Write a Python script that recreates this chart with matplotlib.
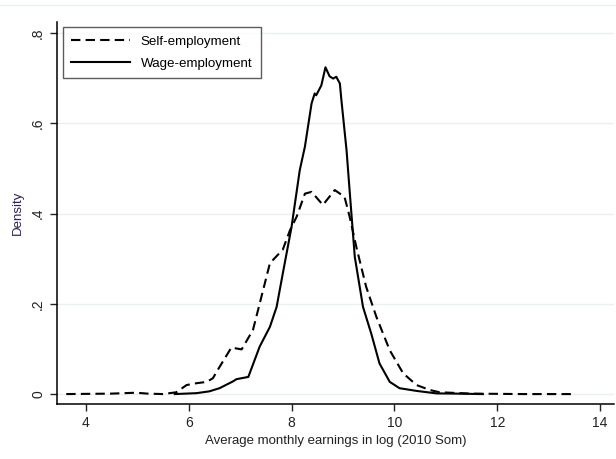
import numpy as np
import matplotlib
matplotlib.use("Agg")
import matplotlib.pyplot as plt

plt.rcParams['font.family'] = ['Liberation Sans', 'DejaVu Sans']

# self-employment density (dashed)
self_x = [3.62, 4.5, 4.98, 5.2, 5.5, 5.76, 5.96, 6.15, 6.35, 6.47, 6.6, 6.83, 7.03,
          7.25, 7.38, 7.58, 7.83, 7.97, 8.10, 8.26, 8.39, 8.61, 8.84, 9.03, 9.13,
          9.26, 9.45, 9.65, 9.91, 10.17, 10.43, 10.69, 10.88, 11.5, 12.5, 13.45]
self_y = [0.0, 0.001, 0.003, 0.001, 0.0, 0.004, 0.02, 0.024, 0.027, 0.035, 0.06, 0.103, 0.099,
          0.142, 0.2, 0.29, 0.32, 0.363, 0.393, 0.444, 0.448, 0.419, 0.452, 0.437, 0.393,
          0.326, 0.238, 0.171, 0.097, 0.046, 0.02, 0.009, 0.004, 0.001, 0.0, 0.0]

# wage-employment density (solid)
wage_x = [5.73, 6.15, 6.4, 6.6, 6.86, 6.93, 7.16, 7.38, 7.58, 7.71, 7.83, 8.0, 8.16,
          8.26, 8.39, 8.45, 8.48, 8.58, 8.66, 8.74, 8.81, 8.87, 8.94, 8.97, 9.07,
          9.13, 9.23, 9.39, 9.55, 9.71, 9.91, 10.1, 10.43, 10.82, 11.2, 11.72]
wage_y = [0.0, 0.002, 0.006, 0.013, 0.028, 0.033, 0.038, 0.105, 0.149, 0.193, 0.267, 0.37, 0.496,
          0.548, 0.644, 0.666, 0.662, 0.684, 0.724, 0.704, 0.699, 0.703, 0.688, 0.651, 0.54,
          0.45, 0.304, 0.193, 0.134, 0.068, 0.027, 0.013, 0.007, 0.0015, 0.001, 0.0]

xticks = [4, 6, 8, 10, 12, 14]
yticks = [0, 0.2, 0.4, 0.6, 0.8]
ytick_labels = ["0", ".2", ".4", ".6", ".8"]

fig = plt.figure(figsize=(6.16, 4.59), dpi=100)
ax = fig.add_axes([57/616, 1 - 404/459, (614 - 57)/616, (404 - 21.7)/459])

for yv in yticks:
    ax.axhline(yv, color='#eaf0f2', lw=1.0, zorder=0)

ax.plot(self_x, self_y, color='black', lw=1.5, ls=(0, (4.5, 2.5)), label='Self-employment')
ax.plot(wage_x, wage_y, color='black', lw=1.5, ls='-', label='Wage-employment')

ax.set_xlim(3.44, 14.27)
ax.set_ylim(-0.022, 0.825)
ax.set_xticks(xticks)
ax.set_xticklabels([str(t) for t in xticks])
ax.set_yticks(yticks)
ax.set_yticklabels(ytick_labels, rotation=90, va='center')
ax.tick_params(labelsize=10, length=5, width=1, colors='#222222')

for s in ['top', 'right']:
    ax.spines[s].set_visible(False)
ax.spines['left'].set_linewidth(1.1)
ax.spines['bottom'].set_linewidth(1.1)

ax.set_xlabel('Average monthly earnings in log (2010 Som)', fontsize=9.5, color='#222222', labelpad=4)
ax.set_ylabel('Density', fontsize=9.5, color='#2e2050', labelpad=5)

leg = ax.legend(loc='upper left', bbox_to_anchor=(0.011, 0.986), fontsize=9.6,
                frameon=True, fancybox=False, edgecolor='#333333', borderaxespad=0,
                handlelength=4.4, borderpad=0.62, labelspacing=0.75)
leg.get_frame().set_linewidth(1.0)

fig.add_artist(plt.Line2D([0, 1], [1 - 5/459, 1 - 5/459], color='#e8eef0', lw=1))

fig.savefig('out.png', dpi=100)
